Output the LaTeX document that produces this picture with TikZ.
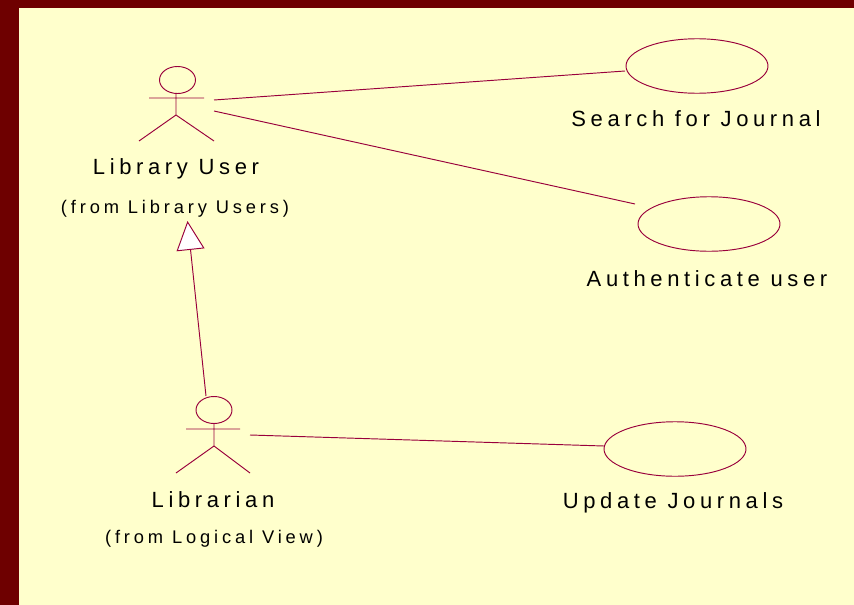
\documentclass[tikz,border=0pt]{standalone}
\usepackage{fontspec}
\setmainfont{Liberation Sans}
\newfontfamily\wideface[LetterSpace=21]{Liberation Sans}
\usetikzlibrary{arrows.meta,shapes.geometric}
\definecolor{slate}{HTML}{6E0000}
\definecolor{paper}{HTML}{FFFFCC}
\definecolor{umlline}{HTML}{99003C}

\begin{document}
\begin{tikzpicture}[x=1pt,y=-1pt,line width=0.95pt,draw=umlline,
                    >={Triangle[open,length=29pt,width=28pt,fill=white]}]
  \tikzset{
    usecase/.style={draw=umlline,ellipse,inner sep=0pt,minimum width=142pt,minimum height=54.5pt},
    head/.style={draw=umlline,ellipse,inner sep=0pt,minimum width=36pt,minimum height=27pt},
    bigtext/.style={inner sep=0pt,text=black,font=\wideface\fontsize{22}{26}\selectfont},
    smalltext/.style={inner sep=0pt,text=black,font=\wideface\fontsize{18.3}{22}\selectfont}
  }
  \fill[slate] (0,0) rectangle (854,605);
  \fill[paper] (19,8) rectangle (854,605);

  \node[head]    (UH) at (177.5,80) {};
  \node[head]    (LH) at (214,410) {};
  \node[usecase] (SJ) at (697,66) {};
  \node[usecase] (AU) at (709,224) {};
  \node[usecase] (UJ) at (675,449) {};

  \node[bigtext]   (UN) at (176,169) {Library User};
  \node[smalltext] (UF) at (175,209) {(from Library Users)};
  \node[bigtext]   (LN) at (213,500) {Librarian};
  \node[smalltext] (LF) at (214,539) {(from Logical View)};
  \node[bigtext]   (SN) at (696,119) {Search for Journal};
  \node[bigtext]   (AN) at (707,279) {Authenticate user};
  \node[bigtext]   (JN) at (673,503) {Update Journals};

  % stick figures
  \coordinate (UA1) at (149,98);
  \coordinate (UA2) at (204,98);
  \coordinate (UB)  at (176,115);
  \coordinate (UL1) at (139,141);
  \coordinate (UL2) at (214,141);
  \coordinate (LA1) at (186,429);
  \coordinate (LA2) at (240,429);
  \coordinate (LB)  at (214,446);
  \coordinate (LL1) at (176,473);
  \coordinate (LL2) at (250,473);
  \draw (UB |- UH.south) -- (UB) (UA1) -- (UA2) (UL1) -- (UB) -- (UL2);
  \draw (LH.south) -- (LB) (LA1) -- (LA2) (LL1) -- (LB) -- (LL2);

  % connectors
  \coordinate (US) at (214,100);
  \coordinate (UT) at (214,111);
  \coordinate (LS) at (250,435);
  \coordinate (ST) at (625,71);
  \coordinate (AT) at (635,204);
  \coordinate (JT) at (604,446);
  \coordinate (GS) at (206,396);
  \coordinate (GT) at (187.5,221);
  \draw (US) -- (ST);
  \draw (UT) -- (AT);
  \draw (LS) -- (JT);
  \draw[->] (GS) -- (GT);
\end{tikzpicture}
\end{document}
